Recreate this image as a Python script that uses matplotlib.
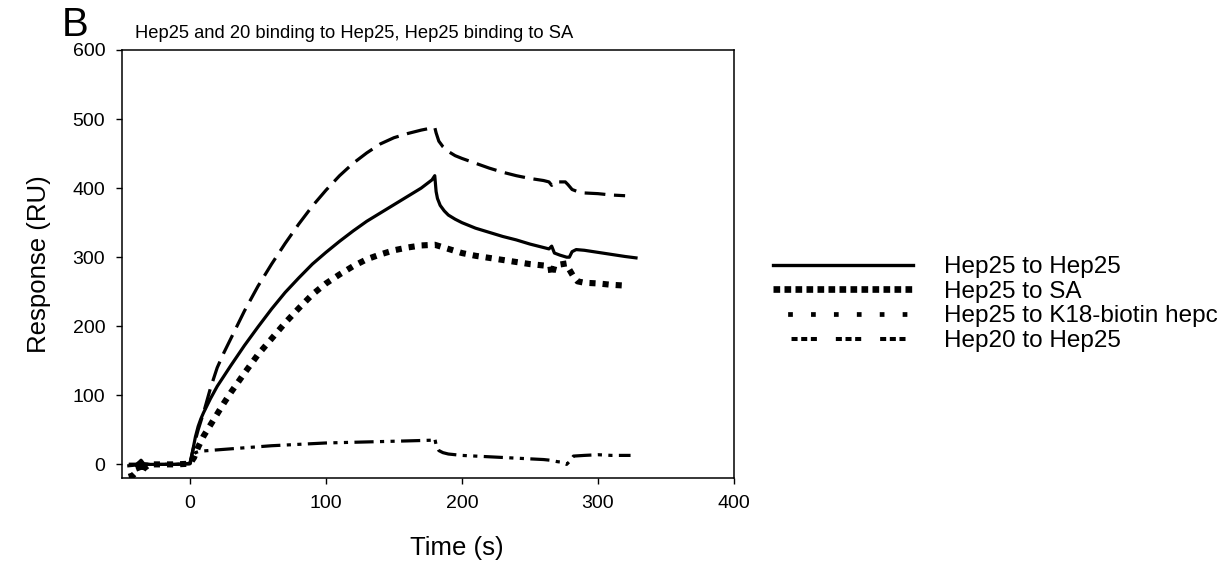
import numpy as np
import matplotlib
matplotlib.use("Agg")
import matplotlib.pyplot as plt
from matplotlib.lines import Line2D

plt.rcParams['font.family'] = ['Liberation Sans', 'DejaVu Sans']

# =========================
# 数据
# =========================
t_h25_h25 = [-45, -40, -37, -36, -34, -30, -20, -10, -2, 0, 2, 4, 6, 8, 10, 15, 20, 25, 30,
             40, 50, 60, 70, 80, 90, 100, 110, 120, 130, 140, 150, 160, 170, 178, 180,
             181, 182, 184, 187, 190, 195, 200, 210, 220, 230, 240, 250, 260, 264, 266,
             268, 272, 277, 279, 281, 284, 290, 300, 310, 320, 328]
y_h25_h25 = [-2, -1, 4, 6, 1, 0, 0, 0, 1, 2, 20, 40, 55, 66, 75, 95, 113, 128, 143,
             172, 199, 225, 249, 270, 290, 307, 323, 338, 352, 364, 376, 388, 400, 412, 418,
             395, 385, 375, 367, 361, 355, 350, 342, 336, 330, 325, 319, 314, 312, 316,
             306, 303, 300, 300, 308, 311, 310, 307, 304, 301, 299]

t_h25_sa = [-45, -42, -40, -38, -36, -34, -30, -20, -10, 0, 3, 6, 10, 15, 20, 25, 30, 35,
            40, 50, 60, 70, 80, 90, 100, 110, 120, 130, 140, 150, 160, 170, 180, 190, 200,
            210, 220, 230, 240, 250, 260, 265, 266, 268, 277, 279, 282, 285, 290, 300,
            310, 319]
y_h25_sa = [-18, -16, -12, -3, -13, -6, 0, 0, 0, 1, 10, 25, 41, 57, 73, 89, 104, 118,
            132, 159, 182, 205, 226, 246, 262, 275, 287, 297, 304, 310, 314, 317, 318, 312, 306,
            302, 299, 296, 293, 290, 288, 287, 273, 288, 291, 282, 272, 265, 263, 262,
            260, 259]

t_h25_k18 = [-45, -30, -10, 0, 3, 6, 10, 15, 20, 25, 30, 40, 50, 60, 70, 80, 90, 100, 110,
             120, 130, 140, 150, 160, 170, 180, 181, 183, 186, 190, 195, 200, 210, 220, 230,
             240, 250, 260, 264, 266, 268, 276, 278, 281, 285, 290, 300, 310, 320]
y_h25_k18 = [0, 0, 0, 1, 28, 50, 75, 110, 140, 162, 182, 222, 258, 290, 320, 348, 374, 397, 418,
             436, 451, 464, 473, 479, 484, 488, 480, 468, 460, 453, 447, 443, 436, 429, 423,
             418, 414, 411, 409, 404, 409, 409, 405, 398, 395, 393, 392, 390, 389]

t_h20_h25 = [-45, -30, -10, 0, 2, 4, 7, 20, 40, 60, 80, 100, 120, 140, 160, 178, 180, 181,
             183, 186, 190, 200, 220, 240, 260, 265, 270, 274, 277, 279, 282, 290, 300, 310, 324]
y_h20_h25 = [0, 0, 0, 1, 12, 17, 19, 21, 24, 27, 29, 31, 32, 33, 34, 35, 38, 28,
             20, 17, 15, 13, 11, 9, 7, 6, 4, 3, 0, 4, 12, 13, 14, 13, 13]

labels = ["Hep25 to Hep25", "Hep25 to SA", "Hep25 to K18-biotin hepc", "Hep20 to Hep25"]

# =========================
# 画图
# =========================
fig = plt.figure(figsize=(12.25, 5.72), dpi=100)
ax = fig.add_axes([0.0996, 0.164, 0.4995, 0.7486])

ax.plot(t_h25_h25, y_h25_h25, color='black', linewidth=2.3, solid_joinstyle='round')
ax.plot(t_h25_sa, y_h25_sa, color='black', linewidth=4.4, linestyle=(0, (1, 1.15)),
        dash_capstyle='butt')
ax.plot(t_h25_k18, y_h25_k18, color='black', linewidth=2.3, linestyle=(0, (6.5, 2.7)))
ax.plot(t_h20_h25, y_h20_h25, color='black', linewidth=2.3,
        linestyle=(0, (6, 2, 1.3, 2, 1.3, 2)))

ax.set_xlim(-50, 400)
ax.set_ylim(-20, 600)
ax.set_xticks(np.arange(0, 401, 100))
ax.set_yticks(np.arange(0, 601, 100))
ax.tick_params(direction='out', length=4, width=1, labelsize=14, pad=8)
for spine in ax.spines.values():
    spine.set_linewidth(1.1)

ax.set_xlabel("Time (s)", fontsize=18.5)
ax.set_ylabel("Response (RU)", fontsize=18.5)
ax.xaxis.set_label_coords(0.547, -0.135)
ax.yaxis.set_label_coords(-0.116, 0.5)

fig.text(135 / 1225, 1 - 38 / 572, "Hep25 and 20 binding to Hep25, Hep25 binding to SA",
         fontsize=13.2, ha='left', va='baseline')
fig.text(62 / 1225, 1 - 36 / 572, "B", fontsize=29, ha='left', va='baseline')

# 图例（自定义线型）
handles = [
    Line2D([], [], color='black', linewidth=2.4),
    Line2D([], [], color='black', linewidth=4.8, linestyle=(0, (1, 0.65)), dash_capstyle='butt'),
    Line2D([], [], color='black', linewidth=3.4, linestyle=(1.75, (1, 3.85)), dash_capstyle='butt'),
    Line2D([], [], color='black', linewidth=2.9,
           linestyle=(6.4, (1.5, 0.9, 1.5, 0.9, 1.5, 4.7)), dash_capstyle='butt'),
]
fig.legend(handles, labels, loc='upper left', bbox_to_anchor=(773 / 1225, 1 - 256 / 572),
           frameon=False, fontsize=17.5, handlelength=5.75, handletextpad=1.3,
           labelspacing=0.11, borderpad=0, borderaxespad=0)

plt.savefig("out.png", dpi=100)
plt.close()
